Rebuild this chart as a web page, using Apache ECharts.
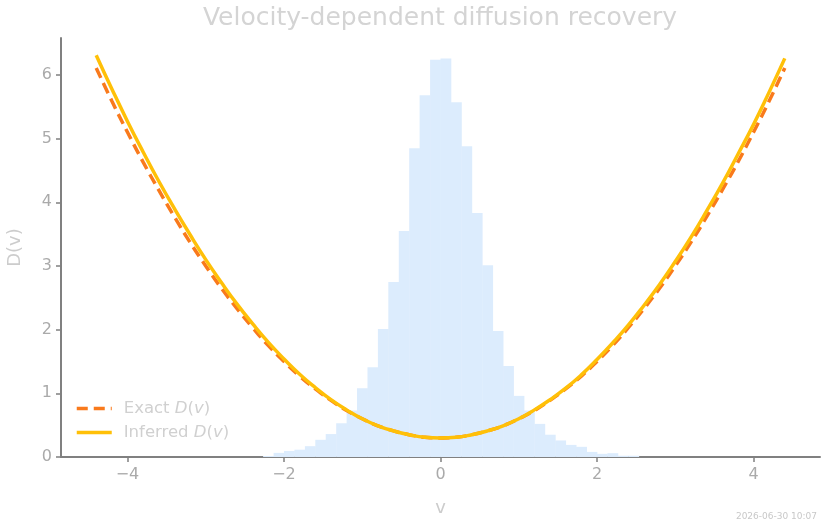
<!DOCTYPE html>
<html>
<head>
<meta charset="UTF-8">
<title>Velocity-dependent diffusion recovery</title>
<script src="https://cdn.jsdelivr.net/npm/echarts@6/dist/echarts.min.js"></script>
<style>
  html, body { margin: 0; padding: 0; background: #fff; }
  #main { width: 825px; height: 525px; }
</style>
</head>
<body>
<div id="main"></div>
<script>
// histogram bin edges (width 2/15) and bar heights
var binEdges = [-2.267, -2.133, -2.0, -1.867, -1.733, -1.6, -1.467, -1.333, -1.2, -1.067, -0.933, -0.8, -0.667, -0.533, -0.4, -0.267, -0.133,
  0, 0.133, 0.267, 0.4, 0.533, 0.667, 0.8, 0.933, 1.067, 1.2, 1.333, 1.467, 1.6, 1.733, 1.867, 2.0, 2.133, 2.267, 2.4, 2.533];
var histValues = [0.016, 0.065, 0.095, 0.115, 0.17, 0.27, 0.36, 0.53, 0.73, 1.08, 1.41, 2.01, 2.75, 3.55, 4.85, 5.68, 6.24,
  6.26, 5.57, 4.88, 3.83, 3.01, 1.98, 1.43, 0.96, 0.73, 0.52, 0.35, 0.26, 0.19, 0.16, 0.08, 0.05, 0.06, 0.02, 0.02];

// curve samples
var vGrid = [-4.4, -4.2, -4.0, -3.8, -3.6, -3.4, -3.2, -3.0, -2.8, -2.6, -2.4, -2.2, -2.0, -1.8, -1.6, -1.4, -1.2, -1.0, -0.8, -0.6, -0.4, -0.2,
  0, 0.2, 0.4, 0.6, 0.8, 1.0, 1.2, 1.4, 1.6, 1.8, 2.0, 2.2, 2.4, 2.6, 2.8, 3.0, 3.2, 3.4, 3.6, 3.8, 4.0, 4.2, 4.4];
var exactD = [6.11, 5.59, 5.10, 4.63, 4.19, 3.77, 3.37, 3.00, 2.65, 2.33, 2.03, 1.75, 1.50, 1.27, 1.07, 0.89, 0.73, 0.60, 0.49, 0.41, 0.35, 0.31,
  0.30, 0.31, 0.35, 0.41, 0.49, 0.60, 0.73, 0.89, 1.07, 1.27, 1.50, 1.75, 2.03, 2.33, 2.65, 3.00, 3.37, 3.77, 4.19, 4.63, 5.10, 5.59, 6.11];
var inferredD = [6.31, 5.78, 5.27, 4.79, 4.33, 3.90, 3.49, 3.10, 2.74, 2.40, 2.09, 1.80, 1.54, 1.30, 1.09, 0.90, 0.74, 0.60, 0.49, 0.41, 0.35, 0.31,
  0.30, 0.31, 0.35, 0.41, 0.49, 0.60, 0.74, 0.90, 1.08, 1.29, 1.53, 1.79, 2.07, 2.38, 2.71, 3.07, 3.45, 3.86, 4.29, 4.75, 5.22, 5.73, 6.26];

var xTicks = [-4, -2, 0, 2, 4];
var yTicks = [0, 1, 2, 3, 4, 5, 6];

var FONT = 'DejaVu Sans';
var histData = histValues.map(function (h, i) { return [binEdges[i], binEdges[i + 1], h]; });
function pairs(ys) { return vGrid.map(function (v, i) { return [v, ys[i]]; }); }
function minus(val) { return String(val).replace('-', '\u2212'); }

var myChart = echarts.init(document.getElementById('main'));
var option = {
  animation: false,
  textStyle: { fontFamily: FONT },
  title: {
    text: 'Velocity-dependent diffusion recovery',
    left: 435, top: 1, textAlign: 'center',
    textStyle: { color: '#d4d4d4', fontSize: 25, fontWeight: 'normal', fontFamily: FONT }
  },
  grid: { left: 61, right: 5, top: 38, bottom: 68, outerBoundsMode: 'none', containLabel: false },
  legend: {
    orient: 'vertical', left: 70, top: 395, itemWidth: 35, itemHeight: 14, itemGap: 7,
    itemStyle: { opacity: 0 },
    lineStyle: { width: 3.5 },
    textStyle: {
      color: '#d0d0d0', fontSize: 16.5, fontFamily: FONT, padding: [0, 0, 0, 7],
      rich: { i: { fontStyle: 'italic', color: '#d0d0d0', fontSize: 16.5, fontFamily: FONT } }
    },
    formatter: function (name) {
      return name === 'exact' ? 'Exact {i|D}({i|v})' : 'Inferred {i|D}({i|v})';
    },
    data: ['exact', 'inferred']
  },
  xAxis: {
    type: 'value', min: -4.85, max: 4.85,
    name: 'v', nameLocation: 'middle', nameGap: 42,
    nameTextStyle: { color: '#cccccc', fontSize: 18, fontFamily: FONT },
    axisLine: { onZero: false, lineStyle: { color: '#808080', width: 2 } },
    axisTick: { customValues: xTicks, length: 5, lineStyle: { color: '#808080', width: 1.5 } },
    axisLabel: { customValues: xTicks, color: '#aaaaaa', fontSize: 16, margin: 10, formatter: minus },
    splitLine: { show: false }
  },
  yAxis: {
    type: 'value', min: 0, max: 6.58,
    name: 'D(v)', nameLocation: 'middle', nameGap: 37, nameRotate: 90,
    nameTextStyle: { color: '#cccccc', fontSize: 18, fontFamily: FONT },
    axisLine: { show: true, onZero: false, lineStyle: { color: '#808080', width: 2 } },
    axisTick: { show: true, customValues: yTicks, length: 5, lineStyle: { color: '#808080', width: 1.5 } },
    axisLabel: { customValues: yTicks, color: '#aaaaaa', fontSize: 16, margin: 9 },
    splitLine: { show: false }
  },
  series: [
    {
      name: 'histogram', type: 'custom', z: 1,
      renderItem: function (params, api) {
        var p0 = api.coord([api.value(0), api.value(2)]);
        var p1 = api.coord([api.value(1), 0]);
        return {
          type: 'rect',
          shape: { x: p0[0], y: p0[1], width: p1[0] - p0[0] + 0.4, height: p1[1] - p0[1] },
          style: { fill: '#dcecfd' }
        };
      },
      encode: { x: [0, 1], y: 2 },
      data: histData
    },
    {
      name: 'exact', type: 'line', z: 3, smooth: true, symbol: 'none',
      lineStyle: { color: '#f97a1c', width: 3.5, type: [11, 6] },
      itemStyle: { color: '#f97a1c' },
      data: pairs(exactD)
    },
    {
      name: 'inferred', type: 'line', z: 4, smooth: true, symbol: 'none',
      lineStyle: { color: '#ffc008', width: 3.5 },
      itemStyle: { color: '#ffc008' },
      data: pairs(inferredD)
    }
  ],
  graphic: [{
    type: 'text', right: 8, bottom: 4,
    style: { text: '2026-06-30 10:07', fill: '#c8c8c8', fontSize: 9, fontFamily: FONT }
  }]
};
myChart.setOption(option);
</script>
</body>
</html>
